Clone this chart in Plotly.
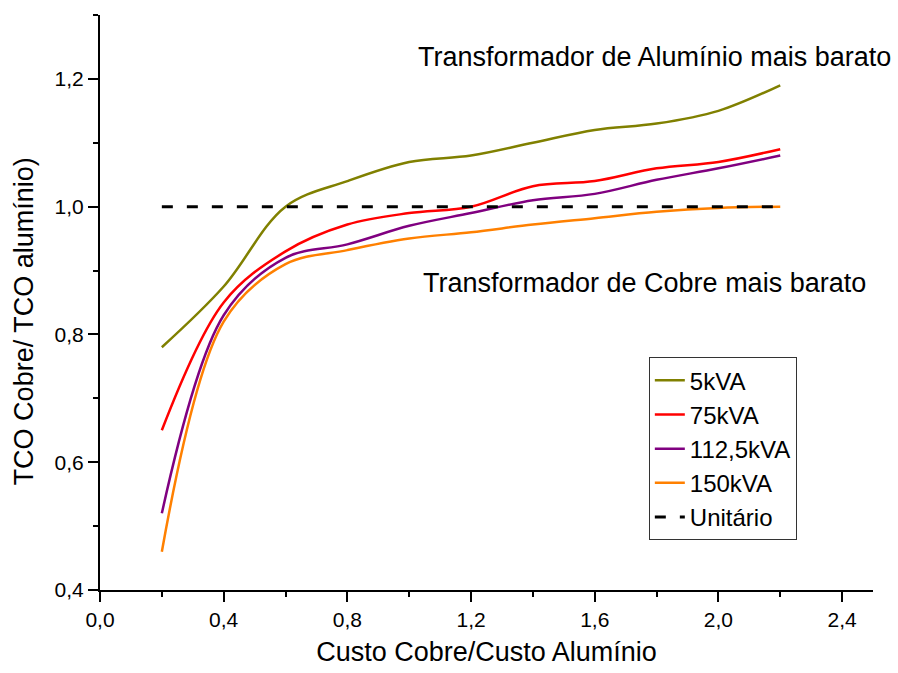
import plotly.graph_objects as go

custo = [0.2, 0.4, 0.6, 0.8, 1.0, 1.2, 1.4, 1.6, 1.8, 2.0, 2.2]
tco_5kva = [0.78, 0.875, 1.0, 1.04, 1.07, 1.08, 1.10, 1.12, 1.13, 1.15, 1.19]
tco_75kva = [0.65, 0.85, 0.93, 0.972, 0.99, 1.0, 1.032, 1.04, 1.06, 1.07, 1.09]
tco_112kva = [0.52, 0.83, 0.92, 0.941, 0.97, 0.99, 1.01, 1.02, 1.042, 1.06, 1.08]
tco_150kva = [0.46, 0.82, 0.91, 0.932, 0.95, 0.96, 0.972, 0.982, 0.992, 0.998, 1.0]
unit_x = [0.2, 2.2]
unit_y = [1.0, 1.0]

series = [
    ("5kVA", tco_5kva, "#808000"),
    ("75kVA", tco_75kva, "#FF0000"),
    ("112,5kVA", tco_112kva, "#800080"),
    ("150kVA", tco_150kva, "#FF8000"),
]

FONT = "Liberation Sans, Arial, sans-serif"

fig = go.Figure()
for name, ys, col in series:
    fig.add_trace(go.Scatter(x=custo, y=ys, mode="lines", name=name,
                             line=dict(color=col, width=2.5, shape="spline", smoothing=1.0)))
fig.add_trace(go.Scatter(x=unit_x, y=unit_y, mode="lines", name="Unitário",
                         line=dict(color="black", width=3, dash="11px,14px")))

fig.add_annotation(x=1.794, y=1.234, xref="x", yref="y", text="Transformador de Alumínio mais barato",
                   showarrow=False, font=dict(family=FONT, size=27, color="black"))
fig.add_annotation(x=1.761, y=0.881, xref="x", yref="y", text="Transformador de Cobre mais barato",
                   showarrow=False, font=dict(family=FONT, size=27, color="black"))
# y-axis title
fig.add_annotation(x=-0.099, y=0.468, xref="paper", yref="paper", text="TCO Cobre/ TCO alumínio)",
                   textangle=-90, xanchor="center", yanchor="middle", showarrow=False,
                   font=dict(family=FONT, size=27, color="black"))

axis_common = dict(showgrid=False, zeroline=False, showline=True, linecolor="black", linewidth=2,
                   ticks="outside", ticklen=10, tickwidth=2, tickcolor="black",
                   tickfont=dict(family=FONT, size=21, color="black"), tickformat=".1f",
                   automargin=False)

fig.update_layout(
    width=898, height=673,
    margin=dict(l=100, r=25, t=15, b=83),
    paper_bgcolor="white", plot_bgcolor="white",
    separators=",.",
    font=dict(family=FONT, color="black"),
    xaxis=dict(range=[0, 2.5], dtick=0.4, tick0=0,
               minor=dict(ticks="outside", ticklen=5, tickwidth=2, tickcolor="black", dtick=0.2),
               title=dict(text="Custo Cobre/Custo Alumínio", font=dict(family=FONT, size=27), standoff=12),
               **axis_common),
    yaxis=dict(range=[0.4, 1.3], dtick=0.2, tick0=0.4,
               minor=dict(ticks="outside", ticklen=5, tickwidth=2, tickcolor="black", dtick=0.1),
               **axis_common),
    legend=dict(x=0.71, y=0.405, xanchor="left", yanchor="top",
                bordercolor="#333333", borderwidth=1, bgcolor="white",
                font=dict(family=FONT, size=24, color="black"), tracegroupgap=0),
    showlegend=True,
)

fig.write_html("out.html")
